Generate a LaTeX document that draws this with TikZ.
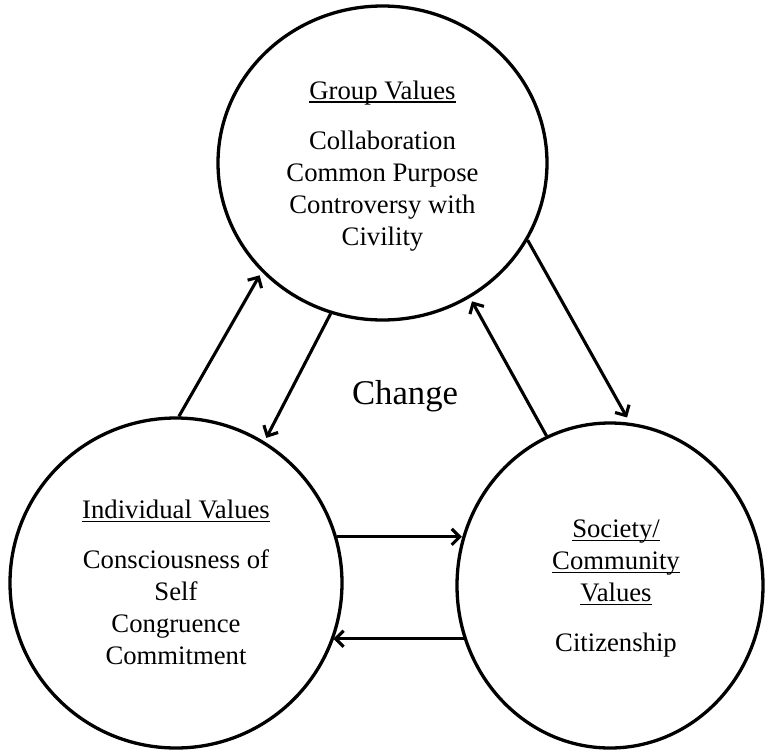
\documentclass[tikz,border=0pt]{standalone}
\usepackage{fontspec}
\setmainfont{Liberation Serif}
\usetikzlibrary{arrows.meta,shapes.geometric}

% heading line with a rule set just under the baseline
\newcommand\headline[1]{\setbox0=\hbox{#1}\rlap{\rule[-0.13em]{\wd0}{0.055em}}\box0}

\begin{document}
\begin{tikzpicture}[x=1pt,y=-1pt,
  valuecircle/.style={draw, ellipse, line width=3.3pt, inner sep=0pt},
  valuetext/.style={align=center, font=\fontsize{26.7}{32}\selectfont, inner sep=0pt},
  flow/.style={line width=3.1pt, -{Straight Barb[length=8pt,width=16pt]}},
  gap/.style={shorten >=4pt}]
\useasboundingbox[fill=white] (0,0) rectangle (766,750);

% the three value circles
\node[valuecircle, minimum width=329pt, minimum height=314pt] (group) at (382.5,163) {};
\node[valuecircle, minimum width=332pt, minimum height=330pt] (indiv) at (176,583) {};
\node[valuecircle, minimum width=306pt, minimum height=325pt] (society) at (610,585.5) {};

% their contents
\node[valuetext] (grouptext) at (382.5,165.7)
  {\headline{Group Values}\\[18pt]Collaboration\\Common Purpose\\Controversy with\\Civility};
\node[valuetext] (indivtext) at (176,582.4)
  {\headline{Individual Values}\\[18pt]Consciousness of\\Self\\Congruence\\Commitment};
\node[valuetext] (societytext) at (616,588.7)
  {\headline{Society/}\\\headline{Community}\\\headline{Values}\\[18pt]Citizenship};

\node[font=\fontsize{34.7}{40}\selectfont, inner sep=0pt] (change) at (405,396) {Change};

% flows between the circles
\draw[flow, gap] (indiv.89.7) -- (group.222.4);
\draw[flow, gap] (group.251.7) -- (indiv.58.5);
\draw[flow, shorten >=6pt] (group.332.7) -- (society.83.3);
\draw[flow, gap] (society.113) -- (group.303.6);
\draw[flow, shorten >=1pt] (indiv.16.8) -- (indiv.16.8 -| society.161);
\draw[flow, shorten >=1pt] (society.200.7) -- (society.200.7 -| indiv.339.9);
\end{tikzpicture}
\end{document}
